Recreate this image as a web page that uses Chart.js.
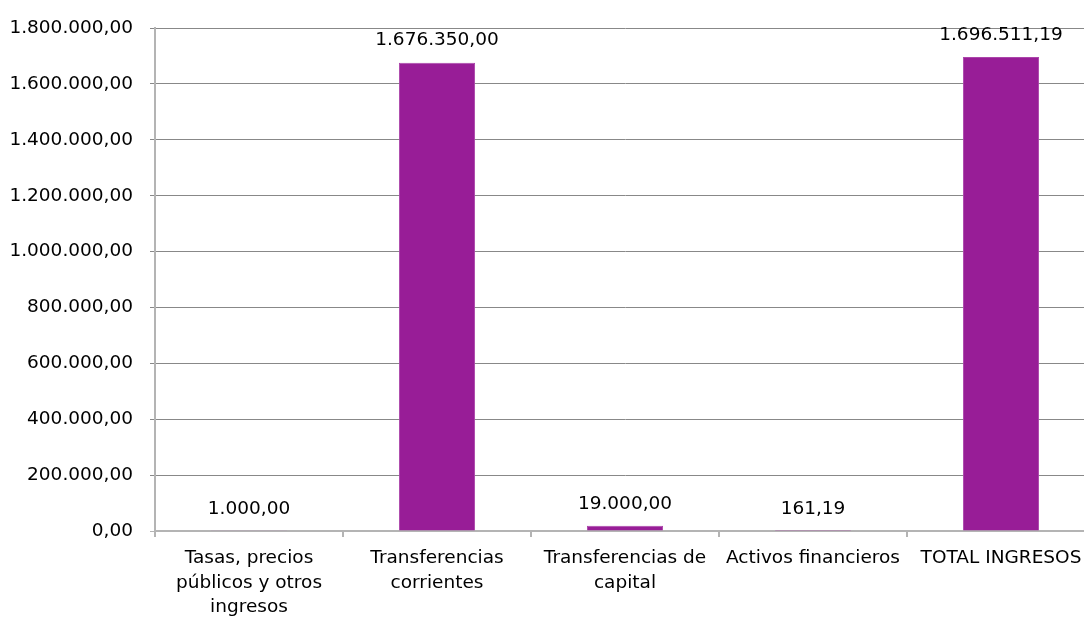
<!DOCTYPE html>
<html>
<head>
<meta charset="utf-8">
<script src="https://cdn.jsdelivr.net/npm/chart.js@4/dist/chart.umd.min.js"></script>
<style>
  html, body { margin: 0; padding: 0; overflow: hidden; background: #ffffff; }
  canvas { display: block; }
</style>
</head>
<body>
<canvas id="c" width="1096" height="621"></canvas>
<script>
// Ingresos por capítulo (euros)
const categorias = [
  ["Tasas, precios", "públicos y otros", "ingresos"],
  ["Transferencias", "corrientes"],
  ["Transferencias de", "capital"],
  "Activos financieros",
  "TOTAL INGRESOS"
];
const importes = [1000.00, 1676350.00, 19000.00, 161.19, 1696511.19];
const ejeMin = 0;
const ejeMax = 1800000;
const ejePaso = 200000;

// Formato numérico con separador de miles "." y decimal ","
function formatoEs(v) {
  const neg = v < 0;
  const partes = Math.abs(v).toFixed(2).split(".");
  const entero = partes[0].replace(/\B(?=(\d{3})+(?!\d))/g, ".");
  return (neg ? "-" : "") + entero + "," + partes[1];
}

const FUENTE = "'DejaVu Sans', Verdana, sans-serif";
const TAM = 18.5;

// Etiquetas de valor sobre cada barra
const etiquetasValor = {
  id: "etiquetasValor",
  afterDatasetsDraw(chart) {
    const ctx = chart.ctx;
    ctx.save();
    ctx.font = TAM + "px " + FUENTE;
    ctx.fillStyle = "#000000";
    ctx.textAlign = "center";
    ctx.textBaseline = "middle";
    chart.data.datasets.forEach((ds, i) => {
      chart.getDatasetMeta(i).data.forEach((bar, j) => {
        ctx.fillText(formatoEs(ds.data[j]), bar.x, bar.y - 22);
      });
    });
    ctx.restore();
  }
};

new Chart(document.getElementById("c"), {
  type: "bar",
  data: {
    labels: categorias,
    datasets: [{
      data: importes,
      backgroundColor: "#981D97",
      borderColor: "#AC45AA",
      borderWidth: 1,
      categoryPercentage: 1,
      barPercentage: 0.405
    }]
  },
  options: {
    responsive: false,
    animation: false,
    devicePixelRatio: 1,
    layout: { padding: { top: 27, right: 1, left: 0, bottom: 0 } },
    plugins: {
      legend: { display: false },
      tooltip: { enabled: false }
    },
    scales: {
      x: {
        afterFit(scale) { scale.height = 90; },
        grid: {
          offset: true,
          drawOnChartArea: false,
          drawTicks: true,
          tickLength: 6,
          color: "#b4b4b4",
          lineWidth: 2
        },
        border: { display: true, color: "#b4b4b4", width: 2 },
        ticks: {
          color: "#000000",
          font: { family: FUENTE, size: TAM, lineHeight: 1.33 },
          maxRotation: 0,
          autoSkip: false,
          padding: 9
        }
      },
      y: {
        min: ejeMin,
        max: ejeMax,
        afterFit(scale) { scale.width = 155; },
        grid: {
          drawOnChartArea: true,
          drawTicks: true,
          tickLength: 5,
          color: (c) => (c.tick && c.tick.value === 0 ? "#b4b4b4" : "#888888"),
          lineWidth: 1
        },
        border: { display: true, color: "#b4b4b4", width: 2 },
        ticks: {
          stepSize: ejePaso,
          color: "#000000",
          font: { family: FUENTE, size: TAM },
          padding: 17,
          callback: (v) => formatoEs(v)
        }
      }
    }
  },
  plugins: [etiquetasValor]
});
</script>
</body>
</html>
